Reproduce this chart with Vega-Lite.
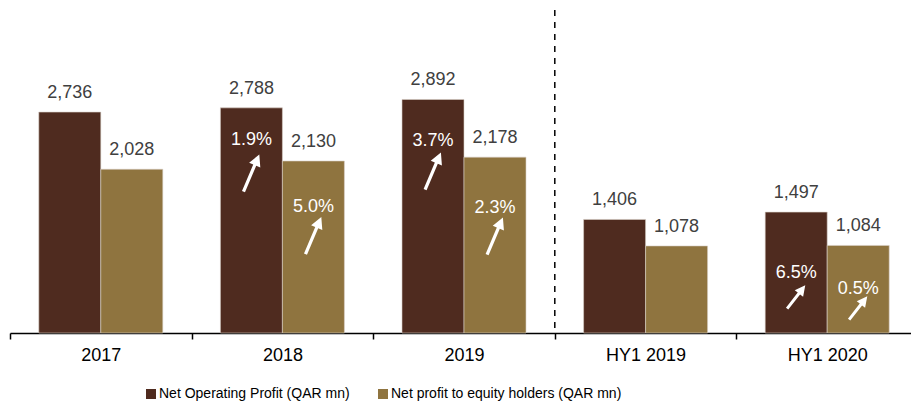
{
  "$schema": "https://vega.github.io/schema/vega-lite/v6.json",
  "width": 901,
  "height": 323,
  "autosize": {"type": "none"},
  "padding": {"left": 10, "top": 10, "right": 0, "bottom": 71},
  "config": {"font": "Liberation Sans", "view": {"stroke": null}},
  "datasets": {
    "bars": [
      {"period": "2017", "series": "Net Operating Profit (QAR mn)", "value": 2736, "kind": "annual", "pct": null, "pctAt": null, "arrowAt": null},
      {"period": "2017", "series": "Net profit to equity holders (QAR mn)", "value": 2028, "kind": "annual", "pct": null, "pctAt": null, "arrowAt": null},
      {"period": "2018", "series": "Net Operating Profit (QAR mn)", "value": 2788, "kind": "annual", "pct": "1.9%", "pctAt": 2390, "arrowAt": 1981},
      {"period": "2018", "series": "Net profit to equity holders (QAR mn)", "value": 2130, "kind": "annual", "pct": "5.0%", "pctAt": 1560, "arrowAt": 1207},
      {"period": "2019", "series": "Net Operating Profit (QAR mn)", "value": 2892, "kind": "annual", "pct": "3.7%", "pctAt": 2378, "arrowAt": 2006},
      {"period": "2019", "series": "Net profit to equity holders (QAR mn)", "value": 2178, "kind": "annual", "pct": "2.3%", "pctAt": 1548, "arrowAt": 1201},
      {"period": "HY1 2019", "series": "Net Operating Profit (QAR mn)", "value": 1406, "kind": "half", "pct": null, "pctAt": null, "arrowAt": null},
      {"period": "HY1 2019", "series": "Net profit to equity holders (QAR mn)", "value": 1078, "kind": "half", "pct": null, "pctAt": null, "arrowAt": null},
      {"period": "HY1 2020", "series": "Net Operating Profit (QAR mn)", "value": 1497, "kind": "half", "pct": "6.5%", "pctAt": 743, "arrowAt": 446},
      {"period": "HY1 2020", "series": "Net profit to equity holders (QAR mn)", "value": 1084, "kind": "half", "pct": "0.5%", "pctAt": 545, "arrowAt": 310}
    ],
    "divider": [{"period": "HY1 2019"}]
  },
  "encoding": {
    "x": {
      "field": "period", "type": "nominal", "sort": null,
      "scale": {"range": [0, 908], "paddingInner": 0, "paddingOuter": 0},
      "axis": {
        "title": null, "labelAngle": 0, "labelFontSize": 18, "labelFontWeight": 400, "labelColor": "#000000",
        "labelPadding": 7, "domainColor": "#000000", "domainWidth": 1.5,
        "tickColor": "#000000", "tickWidth": 1.5, "tickSize": 6, "tickBand": "extent"
      }
    }
  },
  "layer": [
    {
      "data": {"name": "bars"},
      "mark": {"type": "bar", "stroke": "#d8d0c8", "strokeWidth": 0.6},
      "encoding": {
        "xOffset": {"field": "series", "type": "nominal", "sort": null, "scale": {"paddingInner": 0, "paddingOuter": 0.4645}},
        "y": {"field": "value", "type": "quantitative", "scale": {"domain": [0, 4000], "nice": false}, "axis": null},
        "color": {
          "field": "series", "type": "nominal",
          "scale": {
            "domain": ["Net Operating Profit (QAR mn)", "Net profit to equity holders (QAR mn)"],
            "range": ["#4F2B1F", "#8F743F"]
          },
          "legend": {
            "title": null, "orient": "none", "direction": "horizontal",
            "legendX": 134, "legendY": 377,
            "symbolType": "square", "symbolSize": 100, "symbolStrokeWidth": 0,
            "labelFontSize": 14, "labelColor": "#000000", "labelOffset": 1,
            "columnPadding": 26, "labelLimit": 400
          }
        }
      }
    },
    {
      "data": {"name": "bars"},
      "mark": {"type": "text", "baseline": "alphabetic", "dy": -14, "fontSize": 18, "color": "#404040"},
      "encoding": {
        "xOffset": {"field": "series", "type": "nominal", "sort": null},
        "y": {"field": "value", "type": "quantitative"},
        "text": {"field": "value", "type": "quantitative", "format": ","}
      }
    },
    {
      "data": {"name": "bars"},
      "transform": [{"filter": "datum.pct != null"}],
      "mark": {"type": "text", "baseline": "middle", "fontSize": 18, "color": "#ffffff"},
      "encoding": {
        "xOffset": {"field": "series", "type": "nominal", "sort": null},
        "y": {"field": "pctAt", "type": "quantitative"},
        "text": {"field": "pct", "type": "nominal"}
      }
    },
    {
      "data": {"name": "bars"},
      "transform": [{"filter": "datum.arrowAt != null && datum.kind == 'annual'"}],
      "mark": {
        "type": "point", "filled": true, "color": "#ffffff", "opacity": 1, "strokeWidth": 0,
        "size": 1640, "angle": 23,
        "shape": "M0,-1 L0.3,-0.42 L0.08,-0.42 L0.08,1 L-0.08,1 L-0.08,-0.42 L-0.3,-0.42 Z"
      },
      "encoding": {
        "xOffset": {"field": "series", "type": "nominal", "sort": null},
        "y": {"field": "arrowAt", "type": "quantitative"}
      }
    },
    {
      "data": {"name": "bars"},
      "transform": [{"filter": "datum.arrowAt != null && datum.kind == 'half'"}],
      "mark": {
        "type": "point", "filled": true, "color": "#ffffff", "opacity": 1, "strokeWidth": 0,
        "size": 870, "angle": 38,
        "shape": "M0,-1 L0.36,-0.3 L0.1,-0.3 L0.1,1 L-0.1,1 L-0.1,-0.3 L-0.36,-0.3 Z"
      },
      "encoding": {
        "xOffset": {"field": "series", "type": "nominal", "sort": null},
        "y": {"field": "arrowAt", "type": "quantitative"}
      }
    },
    {
      "data": {"name": "divider"},
      "mark": {"type": "rule", "color": "#000000", "strokeWidth": 1.5, "strokeDash": [6, 6]},
      "encoding": {
        "x": {"field": "period", "type": "nominal", "sort": null, "bandPosition": 0}
      }
    }
  ]
}
